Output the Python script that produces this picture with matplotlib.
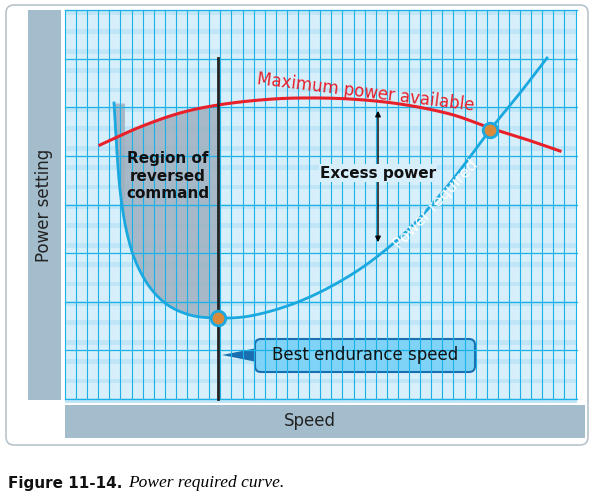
import matplotlib.pyplot as plt
import numpy as np
from matplotlib.patches import FancyBboxPatch, Rectangle, Polygon

# curve points in figure pixel coords (x right, y down)
req_x = [114, 120, 130, 145, 165, 190, 218, 250, 290, 330, 370, 410, 450, 490, 520, 547]
req_y = [103, 190, 245, 280, 303, 315, 318, 316, 305, 287, 262, 228, 183, 130, 93, 58]
avail_x = [100, 140, 180, 218, 260, 300, 350, 400, 450, 490, 525, 560]
avail_y = [145, 127, 113, 105, 100, 98, 99, 104, 114, 128, 139, 151]


def smooth(xp, yp, n=20):
    p = np.column_stack([xp, yp]).astype(float)
    p = np.vstack([p[0], p, p[-1]])
    out = []
    t = np.linspace(0, 1, n, endpoint=False)[:, None]
    for i in range(1, len(p) - 2):
        p0, p1, p2, p3 = p[i - 1], p[i], p[i + 1], p[i + 2]
        out.append(0.5 * ((2 * p1) + (-p0 + p2) * t + (2 * p0 - 5 * p1 + 4 * p2 - p3) * t ** 2
                          + (-p0 + 3 * p1 - 3 * p2 + p3) * t ** 3))
    out.append(p[-2][None, :])
    out = np.vstack(out)
    return out[:, 0], out[:, 1]


W, H = 593, 498
fig = plt.figure(figsize=(W / 100, H / 100), dpi=100)
ax = fig.add_axes([0, 0, 1, 1])
ax.set_xlim(0, W)
ax.set_ylim(H, 0)
ax.axis('off')

ax.add_patch(FancyBboxPatch((6, 5), 582, 440, boxstyle="round,pad=0,rounding_size=8",
                            fc='white', ec='#b8c4cc', lw=1.2))
# grid area
gx0, gx1, gy0, gy1 = 65, 577, 10, 399
ax.add_patch(Rectangle((gx0, gy0), gx1 - gx0, gy1 - gy0, fc='#d6effb', ec='none'))
for i, b in enumerate(np.arange(gy0, gy1, 9.7)):
    if i % 2 == 0:
        ax.add_patch(Rectangle((gx0, b), gx1 - gx0, 4.85, fc='#bfe5f7', ec='none'))
for x in np.arange(gx0, gx1 + 1, 11.1):
    ax.plot([x, x], [gy0, gy1], color='#1ab0e8', lw=0.8)
for y in np.linspace(gy0, gy1, 9):
    ax.plot([gx0, gx1], [y, y], color='#1ab0e8', lw=0.9)

# side bars
ax.add_patch(Rectangle((28, 10), 33, 390, fc='#a3bdcc', ec='none'))
ax.text(44, 205, 'Power setting', rotation=90, ha='center', va='center', fontsize=12, color='#222222')
ax.add_patch(Rectangle((65, 405), 520, 33, fc='#a3bdcc', ec='none'))
ax.text(310, 421, 'Speed', ha='center', va='center', fontsize=12, color='#222222')

rx, ry_s = smooth(req_x, req_y)
axx, ayy = smooth(avail_x, avail_y)

# shaded region
xs = np.linspace(114, 218, 120)
ry = np.interp(xs, rx, ry_s)
ay = np.interp(xs, axx, ayy)
ax.fill_between(xs, ay, ry, where=ry > ay, color='#9fb0bf', alpha=0.85, lw=0)
ax.fill_between(xs, 103, ry, where=xs < 125, color='#9fb0bf', alpha=0.85, lw=0)

ax.plot(rx, ry_s, color='#1aa8e0', lw=2)
ax.plot(axx, ayy, color='#e8202a', lw=2.2)
ax.plot([218, 218], [58, 399], color='#222222', lw=2)

ax.annotate('', xy=(378, 108), xytext=(378, 245),
            arrowprops=dict(arrowstyle='<|-|>', color='black', lw=1, mutation_scale=8))

for px, py in [(218, 318), (490, 130)]:
    ax.scatter([px], [py], s=110, color='#d98a3a', edgecolors='#1aa8e0', linewidths=2, zorder=5)

ax.text(168, 176, 'Region of\nreversed\ncommand', ha='center', va='center', fontsize=11,
        fontweight='bold', color='#111111', linespacing=1.2)
ax.text(378, 173, 'Excess power', ha='center', va='center', fontsize=11,
        fontweight='bold', color='#111111',
        bbox=dict(fc='#d6effb', ec='none', pad=1))
ax.text(366, 92, 'Maximum power available', ha='center', va='center', fontsize=12,
        color='#e8202a', rotation=-7)
ax.text(436, 205, 'Power required', ha='center', va='center', fontsize=11,
        color='white', rotation=47)

ax.add_patch(Polygon([[222, 355], [262, 347], [262, 363]], closed=True, fc='#1a6fb0', ec='none'))
ax.add_patch(FancyBboxPatch((255, 339), 220, 33, boxstyle="round,pad=0,rounding_size=6",
                            fc='#7fd3f6', ec='#1a6fb0', lw=1.5))
ax.text(365, 355, 'Best endurance speed', ha='center', va='center', fontsize=12, color='#111111')

ax.text(8, 483, 'Figure 11-14.', ha='left', va='center', fontsize=11, fontweight='bold',
        color='#111111')
ax.text(128, 483, 'Power required curve.', ha='left', va='center', fontsize=12.5,
        fontstyle='italic', family='Liberation Serif')

fig.savefig('out.png', dpi=100)
